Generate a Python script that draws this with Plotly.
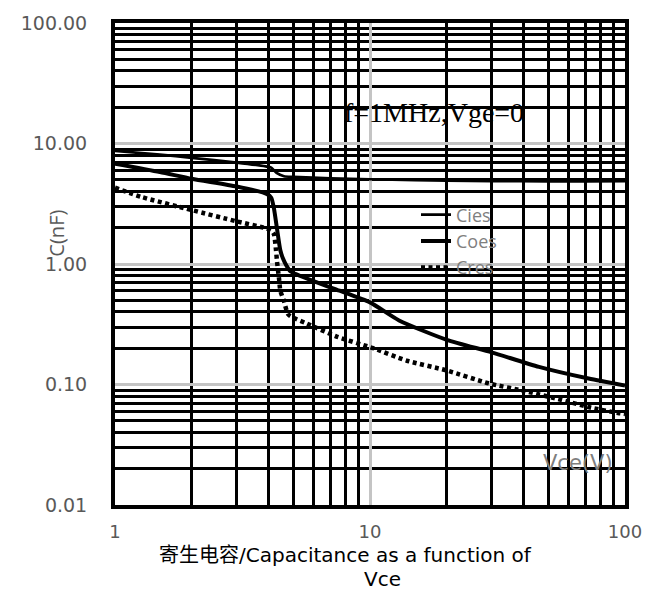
import plotly.graph_objects as go

# ---- data ----
vce_cies = [1, 1.5, 2, 3, 3.9, 4.1, 4.3, 4.6, 5, 7, 10, 15, 20, 30, 50, 70, 100]
cies = [8.7, 8.1, 7.6, 6.95, 6.45, 6.3, 5.7, 5.35, 5.28, 5.15, 5.05, 4.97, 4.92, 4.88, 4.85, 4.85, 4.87]

vce_coes = [1, 1.5, 2, 3, 3.95, 4.1, 4.2, 4.32, 4.45, 4.55, 4.7, 4.87, 6, 7.6, 10, 13, 20, 30, 46, 72, 100]
coes = [6.8, 5.8, 5.1, 4.4, 3.8, 3.55, 2.9, 1.95, 1.3, 1.12, 0.97, 0.87, 0.72, 0.6, 0.48, 0.34, 0.235, 0.185, 0.14, 0.112, 0.098]

vce_cres = [1, 1.27, 2, 3, 3.83, 4.1, 4.2, 4.28, 4.32, 4.4, 4.45, 4.59, 4.79, 5.66, 7.4, 10.3, 13.9, 19.9, 29.3, 40.8, 58.5, 74, 94, 100]
cres = [4.3, 3.6, 2.8, 2.26, 2.0, 1.9, 1.77, 1.3, 1.04, 0.75, 0.6, 0.5, 0.38, 0.32, 0.25, 0.2, 0.158, 0.131, 0.102, 0.088, 0.073, 0.064, 0.058, 0.057]

x_ticks = [1, 10, 100]
x_ticktext = ["1", "10", "100"]
y_ticks = [0.01, 0.1, 1, 10, 100]
y_ticktext = ["0.01", "0.10", "1.00", "10.00", "100.00"]
x_minor = [2, 3, 4, 5, 6, 7, 8, 9, 20, 30, 40, 50, 60, 70, 80, 90]
y_minor = [m * d for d in (0.01, 0.1, 1, 10) for m in range(2, 10)]

fig = go.Figure()
fig.add_trace(go.Scatter(x=vce_cies, y=cies, name="Cies", mode="lines",
                         line=dict(color="black", width=2.7, shape="spline", smoothing=0.6)))
fig.add_trace(go.Scatter(x=vce_coes, y=coes, name="Coes", mode="lines",
                         line=dict(color="black", width=4, shape="spline", smoothing=0.6)))
fig.add_trace(go.Scatter(x=vce_cres, y=cres, name="Cres", mode="lines",
                         line=dict(color="black", width=4.5, dash="4px,3.5px", shape="spline", smoothing=0.6)))

grid_gray = "#c4c4c4"
tick_gray = "#595959"

fig.update_xaxes(type="log", range=[0, 2], tickmode="array", tickvals=x_ticks, ticktext=x_ticktext,
                 showgrid=True, gridcolor=grid_gray, gridwidth=3,
                 minor=dict(tickmode="array", tickvals=x_minor, showgrid=True, gridcolor="black", gridwidth=3.2, ticks=""),
                 showline=True, linecolor="black", linewidth=4, mirror=True, ticks="", zeroline=False,
                 ticklabelstandoff=7, tickfont=dict(family="DejaVu Sans", size=18, color=tick_gray))
fig.update_yaxes(type="log", range=[-2, 2], tickmode="array", tickvals=y_ticks, ticktext=y_ticktext,
                 showgrid=True, gridcolor=grid_gray, gridwidth=3,
                 minor=dict(tickmode="array", tickvals=y_minor, showgrid=True, gridcolor="black", gridwidth=3.2, ticks=""),
                 showline=True, linecolor="black", linewidth=4, mirror=True, ticks="", zeroline=False,
                 ticklabelstandoff=20, tickfont=dict(family="DejaVu Sans", size=19, color=tick_gray))

# white centre of the grey double major grid lines
for xv in [10]:
    fig.add_shape(type="line", xref="x", yref="paper", x0=xv, x1=xv, y0=0, y1=1,
                  line=dict(color="white", width=1), layer="between")
for yv in [0.1, 1, 10]:
    fig.add_shape(type="line", xref="paper", yref="y", x0=0, x1=1, y0=yv, y1=yv,
                  line=dict(color="white", width=1), layer="between")

def px_x(p):
    return (p - 115) / 510

def px_y(p):
    return 1 - (p - 13) / 492

fig.add_annotation(text="f=1MHz,Vge=0", xref="paper", yref="paper", x=px_x(434), y=px_y(104),
                   xanchor="center", yanchor="middle",
                   showarrow=False, font=dict(family="Liberation Serif", size=28, color="black"))
fig.add_annotation(text="Vce(V)", xref="paper", yref="paper", x=px_x(578), y=px_y(462),
                   xanchor="center", yanchor="middle",
                   showarrow=False, font=dict(family="DejaVu Sans", size=21, color="#7f7f7f"))
fig.add_annotation(text="C(nF)", xref="paper", yref="paper", x=px_x(57), y=px_y(228), textangle=-90,
                   xanchor="center", yanchor="middle",
                   showarrow=False, font=dict(family="Open Sans", size=20, color=tick_gray))
fig.add_annotation(text="寄生电容/Capacitance as a function of", xref="paper", yref="paper",
                   x=px_x(345), y=px_y(556), xanchor="center", yanchor="middle", showarrow=False,
                   font=dict(family="DejaVu Sans, Noto Sans CJK SC", size=20, color="black"))
fig.add_annotation(text="Vce", xref="paper", yref="paper",
                   x=px_x(382), y=px_y(581), xanchor="center", yanchor="middle", showarrow=False,
                   font=dict(family="DejaVu Sans", size=20, color="black"))

fig.update_layout(
    width=662, height=594,
    margin=dict(l=115, r=37, t=13, b=89),
    paper_bgcolor="white", plot_bgcolor="white",
    showlegend=True,
    legend=dict(x=px_x(416), y=px_y(190), xanchor="left", yanchor="top",
                bgcolor="rgba(0,0,0,0)", font=dict(family="Open Sans", size=18, color="#7f7f7f"),
                tracegroupgap=0),
)

fig.write_html("out.html")
